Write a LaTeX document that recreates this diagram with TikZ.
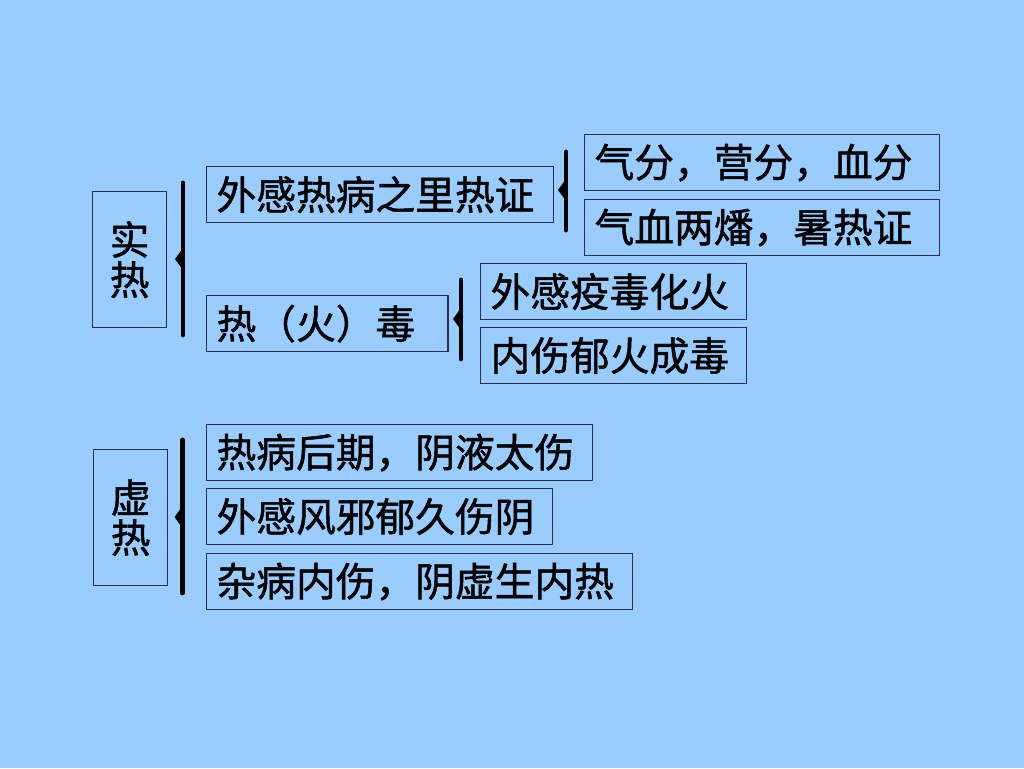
\documentclass[tikz,border=0pt]{standalone}
\usepackage{fontspec}
\newfontfamily\cjk{Noto Sans CJK SC}[FakeBold=1.2]
\definecolor{bgblue}{RGB}{153,204,255}
\definecolor{edge}{RGB}{45,45,75}
% a curly bracket: thick bar with a small point on its left
\newcommand{\sidebrace}[4]{%
    \draw[line width=3.6pt, line cap=round] (#1, #2) -- (#1, #3);
    \fill (#1, #4-11) -- (#1-8, #4) -- (#1, #4+11) -- cycle;
}
\tikzset{
    box/.style={draw=edge, line width=0.9pt, anchor=north west, inner xsep=7.5pt,
        inner ysep=0pt, minimum height=42pt, align=left},
    tag/.style={draw=edge, line width=0.9pt, anchor=north west, inner sep=0pt,
        minimum width=55.5pt, minimum height=102pt, align=center},
}
\begin{document}
\begin{tikzpicture}[x=0.75pt, y=-0.75pt, font=\cjk\fontsize{29.8}{30}\selectfont]
    \fill[bgblue] (0, 0) rectangle (1024, 768);
    \useasboundingbox (0, 0) rectangle (1024, 768);
    % shi re
    \node[tag] (shi) at (92, 191) {实\\热};
    \node[box, text width=245pt] (lire) at (206, 166) {外感热病之里热证};
    \node[box, text width=166pt] (redu) at (206, 295) {热（火）毒};
    \node[box, text width=251pt] (qifen) at (584, 134) {气分，营分，血分};
    \node[box, text width=251pt] (qixue) at (584, 199) {气血两燔，暑热证};
    \node[box, text width=184.5pt] (yidu) at (480, 263) {外感疫毒化火};
    \node[box, text width=184.5pt] (yuhuo) at (480, 327) {内伤郁火成毒};
    % xu re
    \node[tag] (xu) at (93, 449) {虚\\热};
    \node[box, text width=274.5pt] (houqi) at (206, 424) {热病后期，阴液太伤};
    \node[box, text width=244.5pt] (fengxie) at (206, 488) {外感风邪郁久伤阴};
    \node[box, text width=304.5pt] (zabing) at (206, 553) {杂病内伤，阴虚生内热};
    % braces
    \sidebrace{183}{183}{335}{259}
    \sidebrace{566}{152}{230}{190}
    \sidebrace{461}{280}{359}{319}
    \sidebrace{182.5}{440}{593}{517}
\end{tikzpicture}
\end{document}
